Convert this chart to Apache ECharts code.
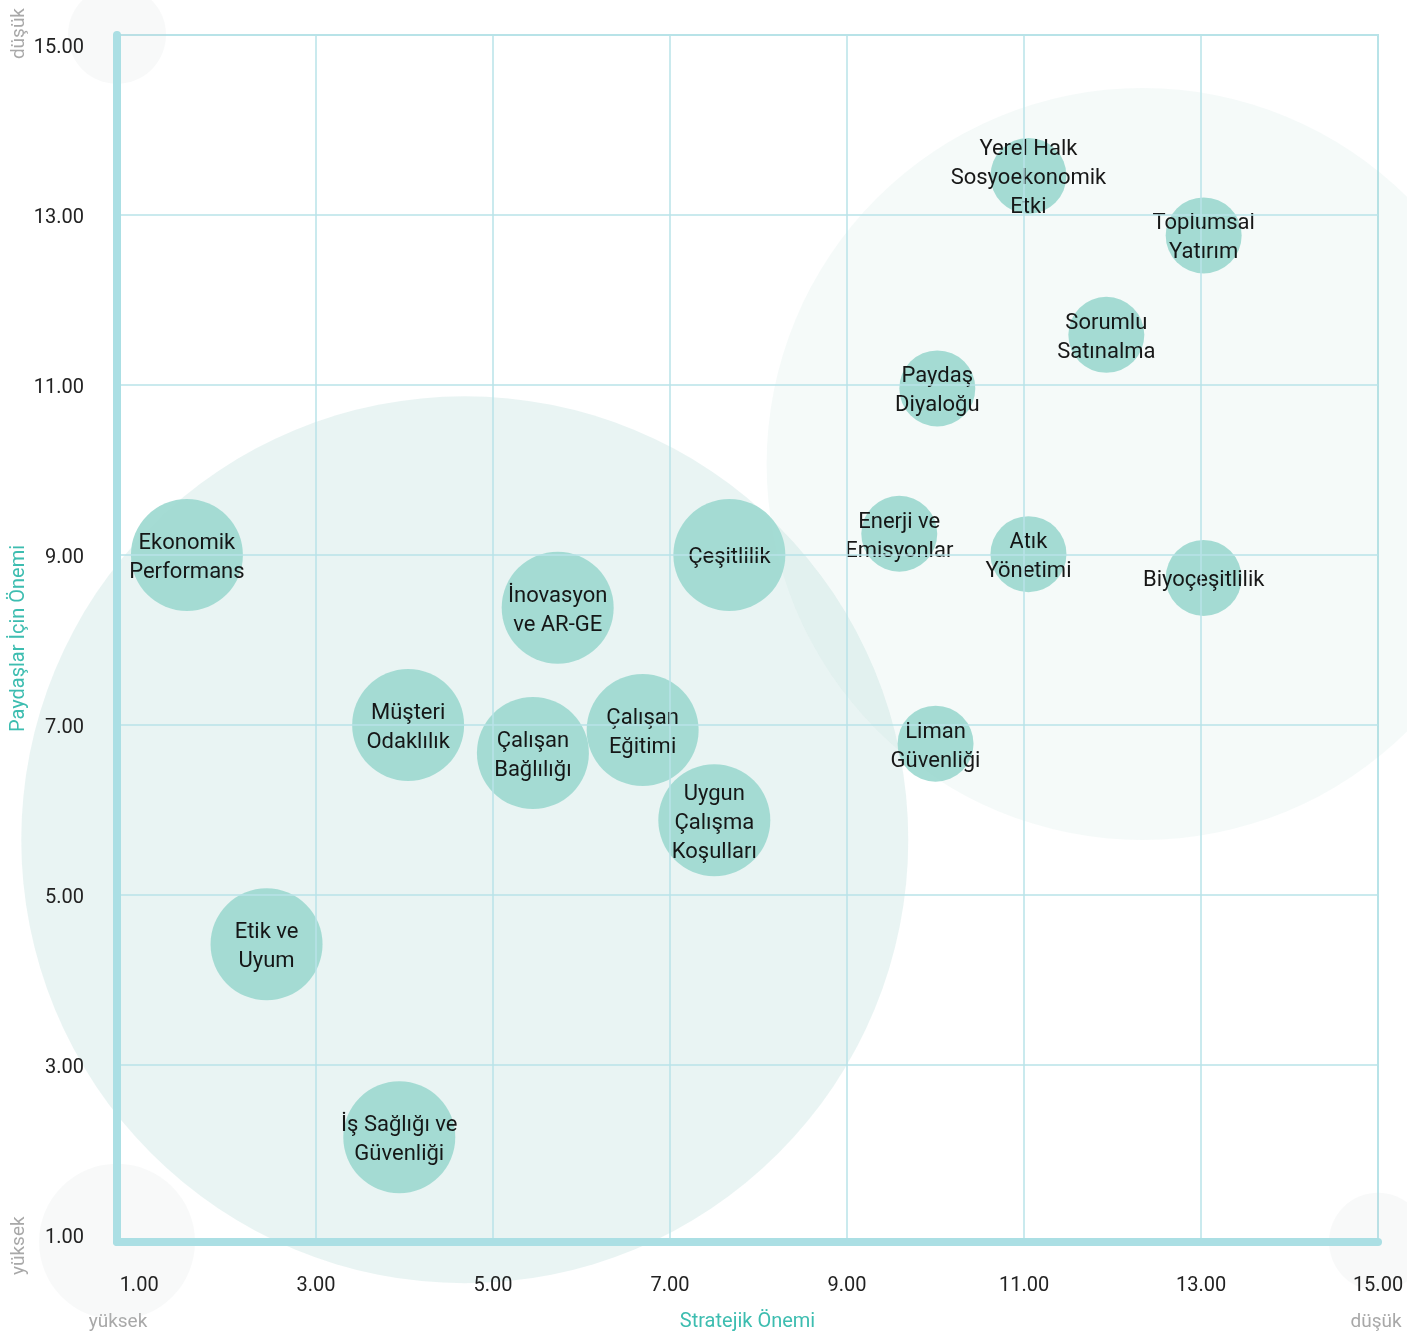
<!DOCTYPE html>
<html>
<head>
<meta charset="utf-8">
<script src="https://cdn.jsdelivr.net/npm/echarts@6/dist/echarts.min.js"></script>
<style>
  html, body { margin: 0; padding: 0; background: #fff; }
  #main { width: 1407px; height: 1338px; }
</style>
</head>
<body>
<div id="main"></div>
<script>
  // konular ve puanlar
  var topics = [
    'Ekonomik\nPerformans', 'İnovasyon\nve AR-GE', 'Çeşitlilik', 'Müşteri\nOdaklılık',
    'Çalışan\nBağlılığı', 'Çalışan\nEğitimi', 'Uygun\nÇalışma\nKoşulları', 'Etik ve\nUyum',
    'İş Sağlığı ve\nGüvenliği', 'Yerel Halk\nSosyoekonomik\nEtki', 'Toplumsal\nYatırım',
    'Sorumlu\nSatınalma', 'Paydaş\nDiyaloğu', 'Enerji ve\nEmisyonlar', 'Atık\nYönetimi',
    'Biyoçeşitlilik', 'Liman\nGüvenliği'
  ];
  var strategic   = [1.54, 5.73, 7.67, 4.04, 5.45, 6.69, 7.50, 2.44, 3.94, 11.05, 13.03, 11.93, 10.02, 9.59, 11.05, 13.03, 10.00];
  var stakeholder = [9.00, 8.38, 9.00, 7.00, 6.67, 6.94, 5.88, 4.42, 2.15, 13.46, 12.76, 11.59, 10.96, 9.25, 9.01, 8.73, 6.78];
  var group       = [1, 1, 1, 1, 1, 1, 1, 1, 1, 2, 2, 2, 2, 2, 2, 2, 2];

  var tickValues = [1, 3, 5, 7, 9, 11, 13, 15];
  var gridX = [3, 5, 7, 9, 11, 13];
  var gridY = [3, 5, 7, 9, 11, 13];

  // arka plan halkalari
  var zoneX = [4.68, 12.34];
  var zoneY = [5.65, 10.07];
  var cornerX = [0.75, 0.75, 15];
  var cornerY = [15.12, 0.92, 0.92];

  var X_MIN = 0.75, X_MAX = 15, Y_MIN = 0.9176, Y_MAX = 15.1176;
  var fontFam = 'Roboto, "Noto Sans", sans-serif';

  var myChart = echarts.init(document.getElementById('main'));

  var bubbleData = strategic.map(function (x, i) {
    return { value: [x, stakeholder[i]], name: topics[i], symbolSize: group[i] === 1 ? 112 : 76 };
  });

  var markData = gridX.map(function (v) { return { xAxis: v }; })
    .concat(gridY.map(function (v) { return { yAxis: v }; }));

  var option = {
    animation: false,
    grid: {
      left: 117, right: 29, top: 35, bottom: 96, outerBoundsMode: 'none', containLabel: false,
      show: true, borderColor: '#b8e3e8', borderWidth: 2, backgroundColor: 'transparent'
    },
    xAxis: {
      type: 'value', min: X_MIN, max: X_MAX, z: 10,
      name: 'Stratejik Önemi', nameLocation: 'middle', nameGap: 70,
      nameTextStyle: { color: '#3dbdb0', fontSize: 20, fontFamily: fontFam },
      axisLine: { lineStyle: { color: '#abdfe4', width: 8 } },
      axisTick: { show: false },
      splitLine: { show: false },
      axisLabel: {
        customValues: tickValues, margin: 34, color: '#222', fontSize: 20, fontFamily: fontFam,
        formatter: function (v) { return v.toFixed(2); }
      }
    },
    yAxis: {
      type: 'value', min: Y_MIN, max: Y_MAX, z: 10,
      name: 'Paydaşlar İçin Önemi', nameLocation: 'middle', nameGap: 88, nameMoveOverlap: false,
      nameTextStyle: { color: '#3dbdb0', fontSize: 20, fontFamily: fontFam },
      axisLine: { lineStyle: { color: '#abdfe4', width: 8 } },
      axisTick: { show: false },
      splitLine: { show: false },
      axisLabel: {
        customValues: tickValues, margin: 33, color: '#222', fontSize: 20, fontFamily: fontFam,
        verticalAlign: 'top', lineHeight: 6,
        formatter: function (v) { return v.toFixed(2); }
      }
    },
    series: [
      {
        type: 'scatter', z: 1, silent: true, clip: false,
        data: cornerX.map(function (x, i) { return [x, cornerY[i]]; }),
        symbolSize: function (v, p) { return p.dataIndex === 1 ? 156 : 98; },
        itemStyle: { color: 'rgba(200,212,212,0.17)' }
      },
      {
        type: 'scatter', z: 1, silent: true, clip: false,
        data: zoneX.map(function (x, i) { return [x, zoneY[i]]; }),
        symbolSize: function (v, p) { return p.dataIndex === 0 ? 887 : 752; },
        itemStyle: {
          color: function (p) { return p.dataIndex === 0 ? 'rgba(165,210,205,0.3)' : 'rgba(170,210,205,0.15)'; }
        }
      },
      {
        type: 'line', z: 2, silent: true, data: [],
        markLine: {
          silent: true, symbol: 'none', label: { show: false },
          lineStyle: { color: '#b8e3e8', width: 1.5, type: 'solid' },
          data: markData
        }
      },
      {
        type: 'scatter', z: 3, clip: false,
        data: bubbleData,
        itemStyle: { color: '#a2dbd3', opacity: 0.97 },
        label: {
          show: true, position: 'inside', offset: [0, 3], color: '#111', fontSize: 22, lineHeight: 29,
          fontFamily: fontFam,
          formatter: function (p) { return p.name; }
        }
      }
    ],
    graphic: [
      { type: 'text', left: 10, top: 8, rotation: Math.PI / 2,
        style: { text: 'düşük', fill: '#a8a8a8', font: '19px ' + fontFam } },
      { type: 'text', x: 10, y: 1275, rotation: Math.PI / 2,
        style: { text: 'yüksek', fill: '#a8a8a8', font: '19px ' + fontFam } },
      { type: 'text', x: 118, y: 1322,
        style: { text: 'yüksek', fill: '#a8a8a8', font: '19px ' + fontFam, textAlign: 'center', textVerticalAlign: 'middle' } },
      { type: 'text', x: 1376, y: 1322,
        style: { text: 'düşük', fill: '#a8a8a8', font: '19px ' + fontFam, textAlign: 'center', textVerticalAlign: 'middle' } }
    ]
  };

  myChart.setOption(option);
</script>
</body>
</html>
